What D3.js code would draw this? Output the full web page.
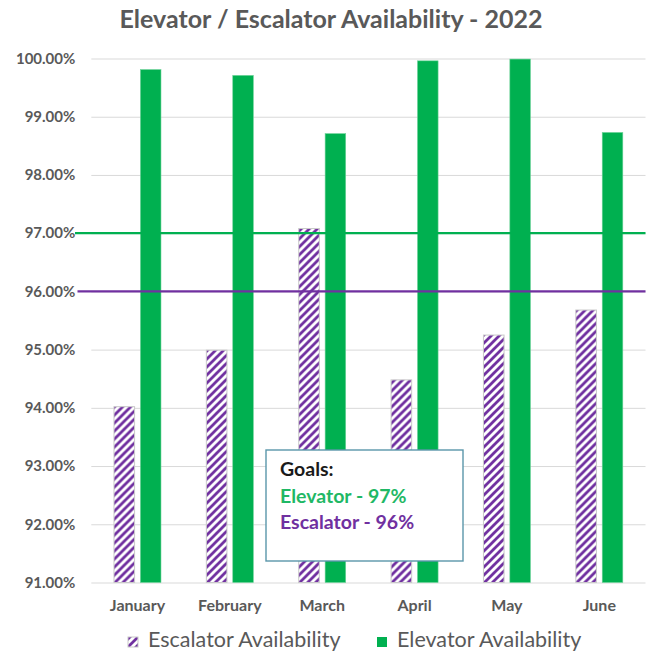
<!DOCTYPE html>
<html>
<head>
<meta charset="utf-8">
<script src="https://cdn.jsdelivr.net/npm/d3@7"></script>
<style>
  html, body { margin: 0; padding: 0; background: #fff; }
  svg { display: block; font-family: Lato, "Open Sans", sans-serif; }
</style>
</head>
<body>
<div id="chart"></div>
<script>
const months = ['January', 'February', 'March', 'April', 'May', 'June'];
const escalator = [94.02, 94.99, 97.08, 94.48, 95.25, 95.68];
const elevator = [99.81, 99.71, 98.71, 99.96, 99.99, 98.73];
const yTicks = [91, 92, 93, 94, 95, 96, 97, 98, 99, 100];
const seriesNames = ['Escalator Availability', 'Elevator Availability'];
const goalValues = [97, 96];
const goalLines = ['Goals:', 'Elevator - 97%', 'Escalator - 96%'];

const W = 647, H = 656;
const green = '#00b050', purple = '#7030a0', grey = '#595959';
const margin = { top: 58.5, right: 1.5, bottom: 73.5, left: 91.3 };

const svg = d3.select('#chart').append('svg')
  .attr('width', W).attr('height', H);

// hatch pattern for escalator bars
const defs = svg.append('defs');
const pat = defs.append('pattern')
  .attr('id', 'hatch')
  .attr('patternUnits', 'userSpaceOnUse')
  .attr('width', 8).attr('height', 8);
pat.append('rect').attr('width', 8).attr('height', 8).attr('fill', '#fff');
pat.append('path')
  .attr('d', 'M-2,2 L2,-2 M0,8 L8,0 M6,10 L10,6')
  .attr('stroke', purple).attr('stroke-width', 2.8);

const x0 = d3.scaleBand().domain(months).range([margin.left, W - margin.right]);
const x1 = d3.scaleBand().domain(seriesNames).range([-23.5, 23.5]).paddingInner(0.22);
const y = d3.scaleLinear().domain([91, 100]).range([H - margin.bottom, margin.top]);

// title
svg.append('text')
  .attr('x', 331).attr('y', 28)
  .attr('text-anchor', 'middle')
  .attr('font-size', 25).attr('font-weight', 'bold')
  .attr('fill', grey)
  .text('Elevator / Escalator Availability - 2022');

// gridlines + y labels
const yAxis = svg.append('g')
  .attr('transform', `translate(${margin.left},0)`)
  .call(d3.axisLeft(y).tickValues(yTicks)
    .tickSize(-(W - margin.left - margin.right))
    .tickPadding(16)
    .tickFormat(d => d.toFixed(2) + '%'));
yAxis.select('.domain').remove();
yAxis.selectAll('line').attr('stroke', '#d9d9d9');
yAxis.selectAll('text')
  .attr('fill', grey).attr('font-size', 15).attr('font-weight', 'bold')
  .attr('font-family', 'Lato, sans-serif');

// bars
const groups = svg.append('g').selectAll('g')
  .data(months)
  .join('g')
  .attr('transform', d => `translate(${x0(d) + x0.bandwidth() / 2},0)`);

groups.append('rect')
  .attr('x', x1(seriesNames[0]))
  .attr('y', (d, i) => y(escalator[i]))
  .attr('width', x1.bandwidth())
  .attr('height', (d, i) => y(91) - y(escalator[i]))
  .attr('fill', 'url(#hatch)')
  .attr('stroke', '#c9c9c9').attr('stroke-width', 1);

groups.append('rect')
  .attr('x', x1(seriesNames[1]))
  .attr('y', (d, i) => y(elevator[i]))
  .attr('width', x1.bandwidth())
  .attr('height', (d, i) => y(91) - y(elevator[i]))
  .attr('fill', green)
  .attr('stroke', '#6fd39a').attr('stroke-width', 0.6);

// x labels
svg.append('g').selectAll('text')
  .data(months)
  .join('text')
  .attr('x', d => x0(d) + x0.bandwidth() / 2)
  .attr('y', 611)
  .attr('text-anchor', 'middle')
  .attr('font-size', 16).attr('font-weight', 'bold')
  .attr('fill', grey)
  .text(d => d);

// goal lines
svg.append('g').selectAll('line')
  .data(goalValues)
  .join('line')
  .attr('x1', (d, i) => i === 0 ? 75 : 77.5)
  .attr('x2', W - margin.right)
  .attr('y1', d => y(d)).attr('y2', d => y(d))
  .attr('stroke', (d, i) => i === 0 ? green : purple)
  .attr('stroke-width', 2.2);

// goals box
const box = svg.append('g').attr('transform', 'translate(266,450)');
box.append('rect')
  .attr('width', 197).attr('height', 111)
  .attr('fill', '#fff')
  .attr('stroke', '#5a96aa').attr('stroke-width', 1.4);
box.selectAll('text')
  .data(goalLines)
  .join('text')
  .attr('x', 14)
  .attr('y', (d, i) => 26 + i * 26.5)
  .attr('font-size', 19.5).attr('font-weight', 'bold')
  .attr('fill', (d, i) => [ '#1a1a1a', '#1fb865', purple ][i])
  .text(d => d);

// legend
const legend = svg.append('g').attr('transform', 'translate(0,647)');
const legX = [128, 377];
const leg = legend.selectAll('g')
  .data(seriesNames)
  .join('g')
  .attr('transform', (d, i) => `translate(${legX[i]},0)`);
leg.append('rect')
  .attr('x', 0).attr('y', -10)
  .attr('width', 10).attr('height', 10)
  .attr('fill', (d, i) => i === 0 ? 'url(#hatch)' : green)
  .attr('stroke', (d, i) => i === 0 ? '#c9c9c9' : 'none');
leg.append('text')
  .attr('x', 20).attr('y', 0)
  .attr('font-size', 21.5)
  .attr('fill', grey)
  .text(d => d);
</script>
</body>
</html>
